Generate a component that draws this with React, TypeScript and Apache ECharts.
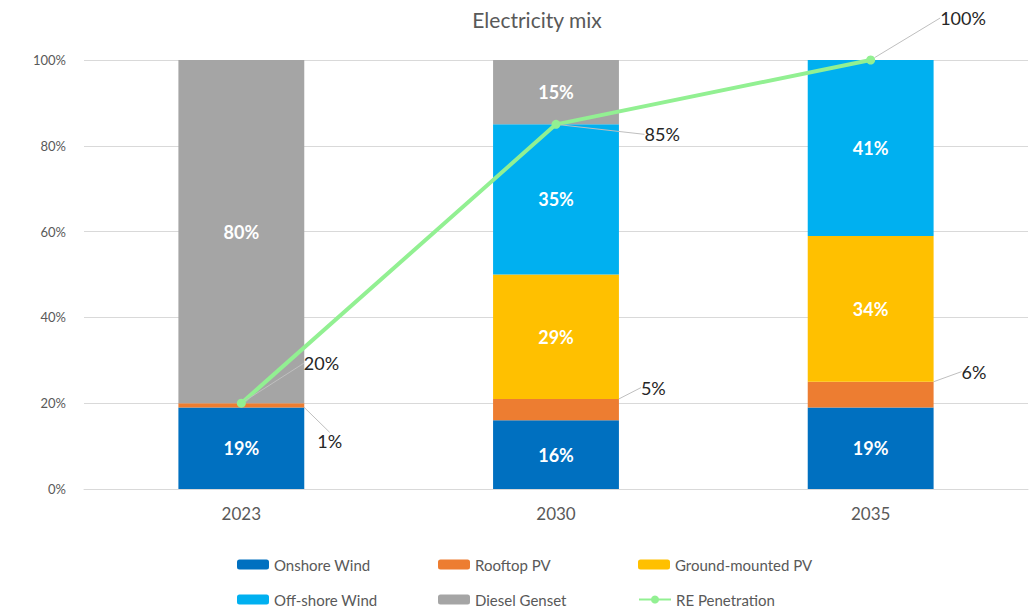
import React, { useEffect, useRef } from "react";
import * as echarts from "echarts";

const years = ["2023", "2030", "2035"];
const onshoreWind = [19, 16, 19];
const rooftopPV = [1, 5, 6];
const groundPV = [null, 29, 34];
const offshoreWind = [null, 35, 41];
const dieselGenset = [80, 15, null];
const rePenetration = [20, 85, 100];
const yTicks = [0, 20, 40, 60, 80, 100];

const FONT = "Lato, 'Open Sans', sans-serif";
const TEXT_GREY = "#595959";
const LABEL_DARK = "#262626";

// offsets that push the small rooftop labels and the RE labels off their marks
const rooftopOffsets = [
  { dx: 8, dy: 36 },
  { dx: 17, dy: -22 },
  { dx: 23, dy: -23 },
];
const reOffsets = [
  { dx: 53, dy: -40 },
  { dx: 79, dy: 10 },
  { dx: 60, dy: -42 },
];

// legend grid: three columns, two rows
const legendSlots = [
  { name: "Onshore Wind", left: 232, top: 552 },
  { name: "Rooftop PV", left: 433, top: 552 },
  { name: "Ground-mounted PV", left: 633, top: 552 },
  { name: "Off-shore Wind", left: 232, top: 587 },
  { name: "Diesel Genset", left: 433, top: 587 },
  { name: "RE Penetration", left: 633, top: 587 },
];

export default function App() {
  const ref = useRef<HTMLDivElement>(null);

  useEffect(() => {
    if (!ref.current) return;
    const chart = echarts.init(ref.current, undefined, { renderer: "svg" });

    const insideLabel = {
      show: true,
      position: "inside",
      color: "#ffffff",
      fontWeight: "bold",
      fontSize: 18,
      fontFamily: FONT,
      formatter: "{c}%",
    };

    const stackBar = (name: string, data: (number | null)[], color: string) => ({
      name,
      type: "bar",
      stack: "mix",
      barCategoryGap: "60%",
      data,
      itemStyle: { color },
      label: insideLabel,
    });

    chart.setOption({
      animation: false,
      textStyle: { fontFamily: FONT },
      title: {
        text: "Electricity mix",
        left: 532,
        top: 4,
        textAlign: "center",
        textStyle: { fontFamily: FONT, fontSize: 21, fontWeight: "normal", color: TEXT_GREY },
      },
      grid: { left: 84, right: 2, top: 60, bottom: 124 },
      legend: legendSlots.map((s) => ({
        data: [s.name],
        left: s.left,
        top: s.top,
        itemWidth: 32,
        itemHeight: 10,
        itemGap: 4,
        textStyle: { fontFamily: FONT, fontSize: 15, color: TEXT_GREY },
      })),
      xAxis: {
        type: "category",
        data: years,
        axisTick: { show: false },
        axisLine: { lineStyle: { color: "#d9d9d9" } },
        axisLabel: { fontFamily: FONT, fontSize: 17, color: TEXT_GREY, margin: 16 },
      },
      yAxis: {
        type: "value",
        min: yTicks[0],
        max: yTicks[yTicks.length - 1],
        interval: 20,
        axisLine: { show: false },
        axisTick: { show: false },
        splitLine: { lineStyle: { color: "#d9d9d9" } },
        axisLabel: { fontFamily: FONT, fontSize: 13, color: TEXT_GREY, margin: 18, formatter: "{value}%" },
      },
      series: [
        stackBar("Onshore Wind", onshoreWind, "#0070C0"),
        {
          name: "Rooftop PV",
          type: "bar",
          stack: "mix",
          barCategoryGap: "60%",
          data: rooftopPV,
          itemStyle: { color: "#ED7D31" },
          label: {
            show: true,
            position: "right",
            color: LABEL_DARK,
            fontSize: 18,
            fontFamily: FONT,
            formatter: "{c}%",
          },
          labelLine: { show: true, lineStyle: { color: "#bfbfbf", width: 1 } },
          labelLayout: (p: any) => rooftopOffsets[p.dataIndex],
        },
        stackBar("Ground-mounted PV", groundPV, "#FFC000"),
        stackBar("Off-shore Wind", offshoreWind, "#00B0F0"),
        stackBar("Diesel Genset", dieselGenset, "#A5A5A5"),
        {
          name: "RE Penetration",
          type: "line",
          data: rePenetration,
          symbol: "circle",
          symbolSize: 9,
          lineStyle: { color: "#92F092", width: 4 },
          itemStyle: { color: "#92F092" },
          z: 5,
          label: {
            show: true,
            position: "right",
            color: LABEL_DARK,
            fontSize: 18,
            fontFamily: FONT,
            formatter: "{c}%",
          },
          labelLine: { show: true, lineStyle: { color: "#bfbfbf", width: 1 } },
          labelLayout: (p: any) => reOffsets[p.dataIndex],
        },
      ],
    });

    return () => chart.dispose();
  }, []);

  return (
    <div
      ref={ref}
      style={{ position: "fixed", left: 0, top: 0, width: 1030, height: 613, background: "#ffffff" }}
    />
  );
}
